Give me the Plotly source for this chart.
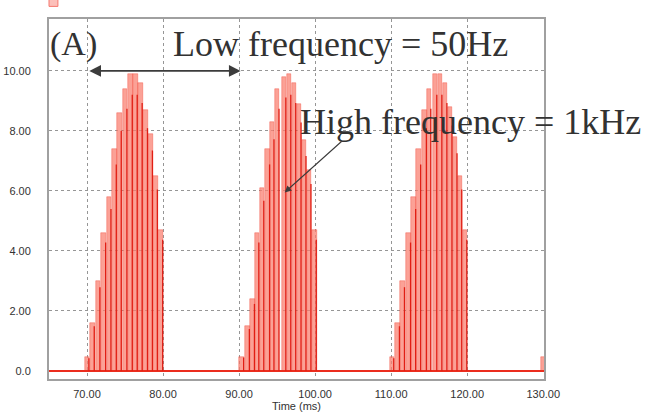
import plotly.graph_objects as go

# ---- data ----
burst1_t = [70.0, 70.7, 71.45, 72.2, 72.9, 73.6, 74.25, 75.0, 75.7, 76.35, 77.0, 77.7, 78.35, 79.0, 79.7]
burst1_h = [0.45, 1.6, 3.0, 4.6, 5.8, 7.4, 8.6, 9.4, 9.9, 9.9, 9.6, 8.7, 7.9, 6.5, 4.7]
burst2_t = [90.35, 91.1, 91.77, 92.35, 93.0, 93.76, 94.34, 95.0, 95.9, 96.55, 97.2, 97.9, 98.55, 99.2, 99.9]
burst2_h = [0.48, 1.5, 2.4, 4.6, 6.1, 7.4, 8.3, 9.4, 9.8, 9.9, 9.6, 8.9, 7.7, 6.7, 4.7]
burst3_t = [110.09, 110.84, 111.5, 112.3, 112.97, 113.63, 114.38, 114.96, 115.75, 116.42, 117.08, 117.75, 118.41, 119.03, 119.7]
burst3_h = [0.45, 1.6, 3.0, 4.6, 5.8, 7.4, 8.7, 9.4, 9.9, 9.9, 9.6, 8.8, 7.8, 6.5, 4.7]
burst4_t = [130.05]
burst4_h = [0.45]

x_ticks = [70, 80, 90, 100, 110, 120, 130]
x_labels = ["70.00", "80.00", "90.00", "100.00", "110.00", "120.00", "130.00"]
y_ticks = [0, 2, 4, 6, 8, 10]
y_labels = ["0.0", "2.00", "4.00", "6.00", "8.00", "10.00"]

pulse_t = burst1_t + burst2_t + burst3_t + burst4_t
pulse_h = burst1_h + burst2_h + burst3_h + burst4_h

RED = "rgb(235,45,30)"
FILL = "rgba(250,125,110,0.72)"

fig = go.Figure()

# baseline
fig.add_trace(go.Scatter(x=[65, 130.1], y=[0, 0], mode="lines",
                         line=dict(color=RED, width=2), hoverinfo="skip"))

# pulses (light fill)
fig.add_trace(go.Bar(x=pulse_t, y=pulse_h, width=0.6,
                     marker=dict(color=FILL, line=dict(color="rgba(240,70,55,0.8)", width=0.5)),
                     hoverinfo="skip"))

# dark spike edges
lx, ly = [], []
for t, h in zip(pulse_t, pulse_h):
    lx += [t + 0.25, t + 0.25, None]
    ly += [0, h * 0.93, None]
fig.add_trace(go.Scatter(x=lx, y=ly, mode="lines",
                         line=dict(color="rgb(225,30,20)", width=1.3), hoverinfo="skip"))

serif = "Liberation Serif, DejaVu Serif, serif"
txt_col = "rgb(50,50,50)"

fig.add_annotation(x=-0.002, y=0.99, xref="paper", yref="paper", text="(A)", showarrow=False,
                   xanchor="left", yanchor="top", font=dict(family=serif, size=34, color=txt_col))
fig.add_annotation(x=81.0, y=10.9, xref="x", yref="y", text="Low frequency = 50Hz",
                   showarrow=False, xanchor="left", font=dict(family=serif, size=36, color=txt_col))
fig.add_annotation(x=97.8, y=8.3, xref="x", yref="y", text="High frequency = 1kHz",
                   showarrow=False, xanchor="left", font=dict(family=serif, size=36, color=txt_col))

# double arrow for low-frequency period
fig.add_annotation(x=70.3, y=10.0, ax=90.4, ay=10.0, xref="x", yref="y", axref="x", ayref="y",
                   text="", showarrow=True, arrowhead=2, arrowside="end+start",
                   arrowsize=1.3, arrowwidth=1.8, arrowcolor="rgb(60,60,60)")
# arrow to the high-frequency pulses
fig.add_annotation(x=96.0, y=5.95, ax=103.7, ay=7.7, xref="x", yref="y", axref="x", ayref="y",
                   text="", showarrow=True, arrowhead=2, arrowsize=1.2, arrowwidth=1.1,
                   arrowcolor="rgb(60,60,60)")

# small red legend glyph at top-left
fig.add_shape(type="rect", xref="paper", yref="paper", x0=0.0, x1=0.018, y0=1.035, y1=1.06,
              line=dict(color="rgb(245,120,110)", width=1), fillcolor="rgba(250,150,140,0.6)")

fig.update_layout(
    width=652, height=419,
    margin=dict(l=49, r=108, t=19, b=40, autoexpand=False),
    paper_bgcolor="white", plot_bgcolor="white",
    showlegend=False, bargap=0,
    font=dict(family="Liberation Sans, Arial, sans-serif", size=11, color="rgb(50,50,50)"),
)
fig.update_xaxes(range=[65, 130.1], tickvals=x_ticks, ticktext=x_labels, automargin=False,
                 showgrid=True, gridcolor="rgb(150,150,150)", griddash="dot", gridwidth=1,
                 showline=True, mirror=True, linecolor="rgb(160,160,160)", linewidth=2,
                 zeroline=False, ticks="", ticklabelstandoff=4,
                 title=dict(text="Time (ms)", font=dict(size=11), standoff=2))
fig.update_yaxes(range=[-0.27, 11.73], tickvals=y_ticks, ticktext=y_labels, automargin=False,
                 showgrid=True, gridcolor="rgb(150,150,150)", griddash="dot", gridwidth=1,
                 showline=True, mirror=True, linecolor="rgb(160,160,160)", linewidth=2,
                 zeroline=False, ticks="", ticklabelstandoff=14)

fig.write_html("out.html")
